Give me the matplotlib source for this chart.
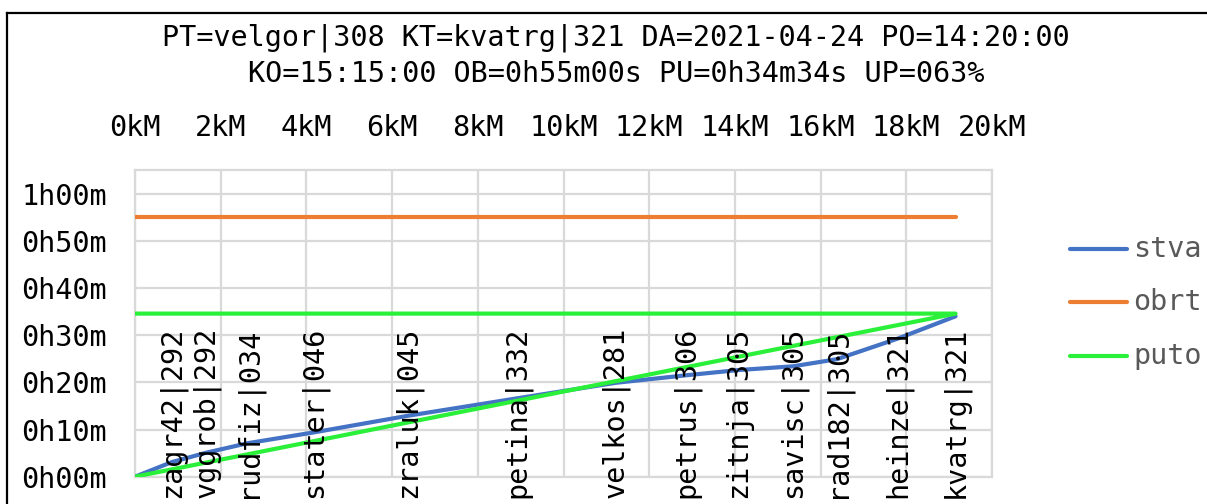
import matplotlib
matplotlib.use("Agg")
import matplotlib.pyplot as plt
from matplotlib.lines import Line2D

# ---------------- data ----------------
stations = ["velgor", "zagr42", "vggrob", "rudfiz", "stater", "zraluk", "petina",
            "velkos", "petrus", "zitnja", "savisc", "rad182", "heinze", "kvatrg"]
codes = ["308", "292", "292", "034", "046", "045", "332",
         "281", "306", "305", "305", "305", "321", "321"]
km = [0.0, 0.86, 1.67, 2.63, 4.18, 6.36, 8.91, 11.22, 12.87, 14.08, 15.36, 16.38, 17.81, 19.15]
stva_min = [0.0, 3.1, 5.1, 7.1, 9.4, 12.9, 16.6, 19.9, 21.5, 22.6, 23.4, 24.9, 29.3, 34.0]
obrt_min = 55.0
puto_min = 34 + 34 / 60
km_ticks = [0, 2, 4, 6, 8, 10, 12, 14, 16, 18, 20]
min_ticks = [0, 10, 20, 30, 40, 50, 60]
title_lines = ["PT=velgor|308 KT=kvatrg|321 DA=2021-04-24 PO=14:20:00",
               "KO=15:15:00 OB=0h55m00s PU=0h34m34s UP=063%"]
legend_names = ["stva", "obrt", "puto"]

# ---------------- style ----------------
W, H = 1207, 504
FONT = "DejaVu Sans Mono"
FS = 20.5
C_BLUE, C_ORANGE, C_GREEN = "#4472C4", "#ED7D31", "#2AF03A"
GRID = "#D9D9D9"

fig = plt.figure(figsize=(W / 100, H / 100), dpi=100)
fig.patch.set_facecolor("white")

x0, x1, ytop, ybot = 135, 992, 170, 476.7
ax = fig.add_axes([x0 / W, 1 - ybot / H, (x1 - x0) / W, (ybot - ytop) / H])
ax.set_xlim(0, 20)
ax.set_ylim(0, 65)

ax.set_xticks(km_ticks)
ax.set_xticklabels([f"{v}kM" for v in km_ticks], fontfamily=FONT, fontsize=FS)
ax.set_yticks(min_ticks)
ax.set_yticklabels([f"{m // 60}h{m % 60:02d}m" for m in min_ticks], fontfamily=FONT, fontsize=FS)
ax.xaxis.tick_top()
ax.tick_params(axis="x", length=0, pad=20)
ax.tick_params(axis="y", length=0, pad=20)
ax.grid(True, color=GRID, lw=1.6)
ax.set_axisbelow(True)
for s in ax.spines.values():
    s.set_color(GRID)
    s.set_linewidth(1.6)

LW = 3.0
ax.plot(km, stva_min, color=C_BLUE, lw=LW, solid_capstyle="round", zorder=3)
ax.plot([km[0], km[-1]], [obrt_min, obrt_min], color=C_ORANGE, lw=LW,
        solid_capstyle="round", zorder=3)
ax.plot([km[0], km[-1], km[0]], [0, puto_min, puto_min], color=C_GREEN, lw=LW,
        solid_capstyle="round", zorder=4)

label_y = 13.6
for name, code, x in zip(stations[1:], codes[1:], km[1:]):
    ax.text(x, label_y, f"{name}|{code}", rotation=90, ha="center", va="center",
            fontfamily=FONT, fontsize=FS, color="black", clip_on=False, zorder=6)

# title lines
fig.text(616 / W, 1 - 45 / H, title_lines[0], ha="center", va="baseline",
         fontfamily=FONT, fontsize=FS, color="black")
fig.text(616 / W, 1 - 81.7 / H, title_lines[1], ha="center", va="baseline",
         fontfamily=FONT, fontsize=FS, color="black")

# legend (manual)
for i, (name, col) in enumerate(zip(legend_names, [C_BLUE, C_ORANGE, C_GREEN])):
    yy = 1 - (249 + i * 53.3) / H
    fig.add_artist(Line2D([1070 / W, 1127 / W], [yy, yy], color=col, lw=LW,
                          solid_capstyle="round"))
    fig.text(1133 / W, yy, name, ha="left", va="center", fontfamily=FONT,
             fontsize=FS, color="#595959")

# outer frame
fig.add_artist(Line2D([7 / W, 7 / W], [0, 1 - 12.7 / H], color="black", lw=1.6))
fig.add_artist(Line2D([7 / W, 1], [1 - 12.7 / H, 1 - 12.7 / H], color="black", lw=1.6))

fig.savefig("out.png", dpi=100)
